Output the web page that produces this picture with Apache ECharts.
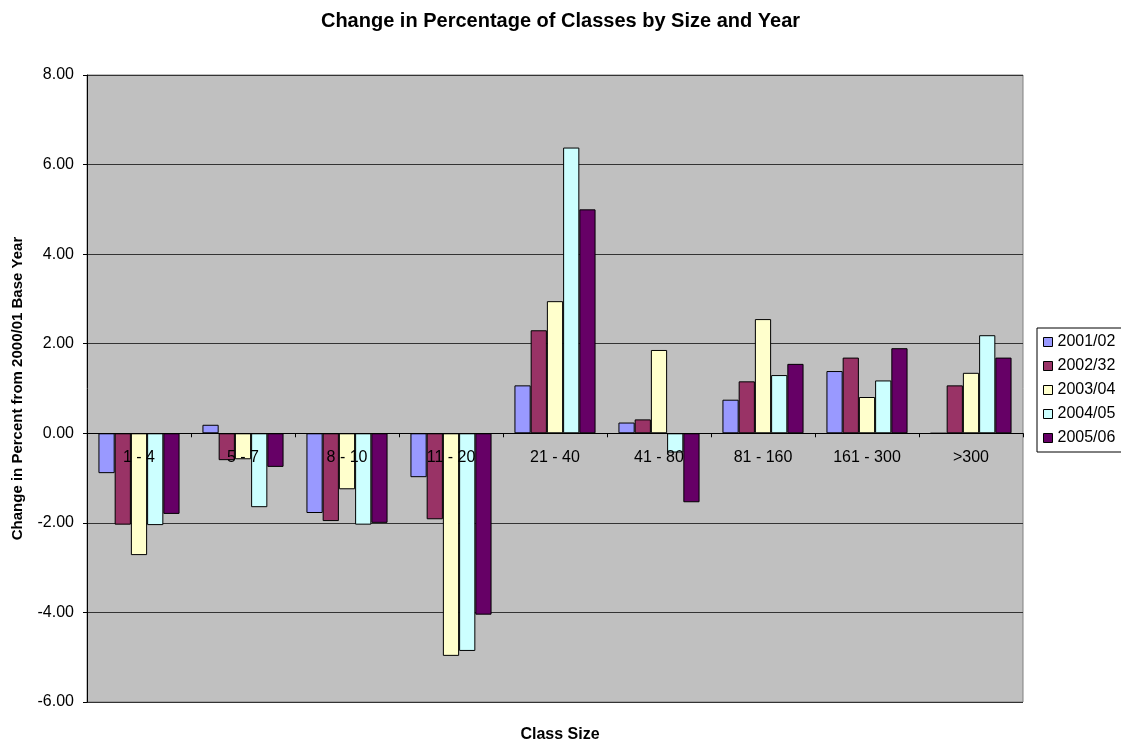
<!DOCTYPE html>
<html lang="en">
<head>
    <meta charset="UTF-8">
    <title>Change in Percentage of Classes by Size and Year</title>
    <script src="https://cdn.jsdelivr.net/npm/echarts@6/dist/echarts.min.js"></script>
</head>
<style>
    html, body { margin: 0; padding: 0; background: #fff; }
    #chart { width: 1121px; height: 739px; }
</style>
<body>
<div id="chart"></div>
<script>
    var categories = ['1 - 4', '5 - 7', '8 - 10', '11 - 20', '21 - 40', '41 - 80', '81 - 160', '161 - 300', '>300'];
    var years = ['2001/02', '2002/32', '2003/04', '2004/05', '2005/06'];

    var y2001 = [-0.89, 0.19, -1.78, -0.98, 1.07, 0.24, 0.75, 1.39, 0];
    var y2002 = [-2.04, -0.60, -1.96, -1.92, 2.30, 0.31, 1.16, 1.69, 1.07];
    var y2003 = [-2.72, -0.58, -1.25, -4.97, 2.95, 1.86, 2.55, 0.81, 1.35];
    var y2004 = [-2.05, -1.65, -2.04, -4.86, 6.38, -0.43, 1.30, 1.18, 2.19];
    var y2005 = [-1.80, -0.75, -2.00, -4.05, 5.00, -1.54, 1.55, 1.90, 1.69];

    var colors = ['#9999FF', '#993366', '#FFFFCC', '#CCFFFF', '#660066'];
    var font = '"Liberation Sans", Arial, sans-serif';

    // plot box (px) and value range, used to sit the category axis on the zero line
    var gridTop = 75, gridBottom = 37, chartH = 739;
    var yMin = -6, yMax = 8;
    var plotH = chartH - gridTop - gridBottom;
    var zeroOffset = plotH * (0 - yMin) / (yMax - yMin);

    var series = [y2001, y2002, y2003, y2004, y2005].map(function (vals, i) {
        return {
            name: years[i],
            type: 'bar',
            data: vals,
            barGap: '0%',
            barCategoryGap: '22%',
            z: 2,
            itemStyle: { color: colors[i], borderColor: '#000', borderWidth: 1 },
            emphasis: { disabled: true }
        };
    });

    var option = {
        animation: false,
        backgroundColor: '#fff',
        textStyle: { fontFamily: font },
        color: colors,
        title: [{
            text: 'Change in Percentage of Classes by Size and Year',
            left: 'center',
            top: 6,
            textStyle: { fontSize: 20, fontWeight: 'bold', color: '#000', fontFamily: font }
        }, {
            text: 'Class Size',
            left: 555,
            textAlign: 'center',
            top: 722,
            textStyle: { fontSize: 16, fontWeight: 'bold', color: '#000', fontFamily: font }
        }],
        legend: {
            orient: 'vertical',
            left: 1037,
            top: 328,
            padding: [6, 30, 6, 6],
            itemWidth: 9,
            itemHeight: 9,
            itemGap: 8,
            borderColor: '#000',
            borderWidth: 1,
            backgroundColor: '#fff',
            borderRadius: 0,
            icon: 'rect',
            itemStyle: { borderColor: '#000', borderWidth: 1 },
            textStyle: { fontSize: 16, color: '#000', fontFamily: font },
            data: years
        },
        grid: {
            left: 87,
            right: 98,
            top: gridTop,
            bottom: gridBottom,
            outerBoundsMode: 'none',
            containLabel: false,
            show: true,
            backgroundColor: '#C0C0C0',
            borderColor: '#808080',
            borderWidth: 1
        },
        xAxis: {
            type: 'category',
            data: categories,
            position: 'bottom',
            offset: -zeroOffset,
            z: 10,
            axisLine: { onZero: false, lineStyle: { color: '#000', width: 1 } },
            axisTick: { show: true, inside: false, length: 4, lineStyle: { color: '#000' } },
            axisLabel: { fontSize: 16, color: '#000', margin: 16, fontFamily: font },
            splitLine: { show: false }
        },
        yAxis: {
            type: 'value',
            min: yMin,
            max: yMax,
            interval: 2,
            name: 'Change in Percent from 2000/01 Base Year',
            nameLocation: 'middle',
            nameGap: 62,
            nameTextStyle: { fontSize: 15, fontWeight: 'bold', color: '#000', fontFamily: font },
            axisLine: { show: true, lineStyle: { color: '#000' } },
            axisTick: { show: true, inside: false, length: 4, lineStyle: { color: '#000' } },
            axisLabel: {
                fontSize: 16,
                color: '#000',
                margin: 13,
                fontFamily: font,
                formatter: function (v) { return v.toFixed(2); }
            },
            splitLine: { show: true, lineStyle: { color: '#333', width: 1 } }
        },
        series: series
    };

    var chart = echarts.init(document.getElementById('chart'), null, { renderer: 'canvas' });
    chart.setOption(option);
</script>
</body>
</html>
